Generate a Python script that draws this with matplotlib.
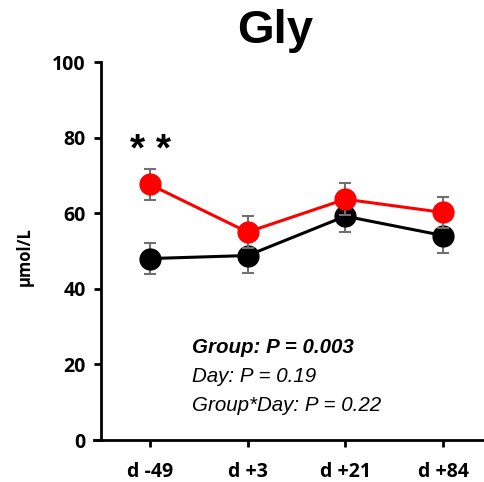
import matplotlib.pyplot as plt
from matplotlib.lines import Line2D

days = ['d -49', 'd +3', 'd +21', 'd +84']
red_mean = [67.6, 55.0, 63.7, 60.2]
red_err = [4.2, 4.3, 4.2, 4.0]
black_mean = [48.0, 48.8, 59.2, 54.1]
black_err = [4.1, 4.5, 4.3, 4.5]
stats_lines = ['Group: P = 0.003', 'Day: P = 0.19', 'Group*Day: P = 0.22']

plt.rcParams['font.family'] = ['Open Sans', 'DejaVu Sans']

fig = plt.figure(figsize=(4.84, 4.82), dpi=100)
ax = fig.add_axes([101 / 484, 1 - 440 / 482, 383 / 484, 378 / 482])

x = list(range(len(days)))
for mean, err, col, z in [(black_mean, black_err, 'black', 3), (red_mean, red_err, '#ff0000', 4)]:
    ax.errorbar(x, mean, yerr=err, color=col, ecolor='#707070', elinewidth=1.5,
                capsize=4, capthick=1.5, lw=2.2, marker='o', markersize=15,
                markeredgecolor=col, zorder=z)

ax.set_xlim(-0.5, 3.42)
ax.set_ylim(0, 100)
ax.set_yticks([0, 20, 40, 60, 80, 100])
ax.set_xticks(x)
ax.set_xticklabels(days)
for lbl in ax.get_xticklabels() + ax.get_yticklabels():
    lbl.set_fontweight('bold')
    lbl.set_fontsize(14)
ax.tick_params(axis='both', direction='out', length=5, width=2, pad=6)
ax.tick_params(axis='x', pad=11)

for s in ['top', 'right']:
    ax.spines[s].set_visible(False)
for s in ['left', 'bottom']:
    ax.spines[s].set_linewidth(2)
ax.add_line(Line2D([-0.57, -0.5], [0, 0], color='black', lw=2, clip_on=False))

ax.set_ylabel('µmol/L', fontsize=12, fontweight='bold', labelpad=4)
ax.yaxis.set_label_coords(-0.175, 0.485)
fig.text(0.568, 0.935, 'Gly', fontsize=34, fontweight='bold', ha='center', va='center',
         family=['Liberation Sans', 'DejaVu Sans'])

ax.text(0.01, 76.5, '* *', fontsize=28, fontweight='bold', ha='center', va='center',
        family=['Liberation Sans', 'DejaVu Sans'])

stats_font = ['Liberation Sans', 'DejaVu Sans']
ax.text(0.43, 24.5, stats_lines[0], fontsize=14.8, fontweight='bold', style='italic',
        va='center', family=stats_font)
ax.text(0.43, 16.7, stats_lines[1], fontsize=14.8, style='italic', va='center', family=stats_font)
ax.text(0.43, 9.2, stats_lines[2], fontsize=14.8, style='italic', va='center', family=stats_font)

fig.savefig('out.png', dpi=100)
